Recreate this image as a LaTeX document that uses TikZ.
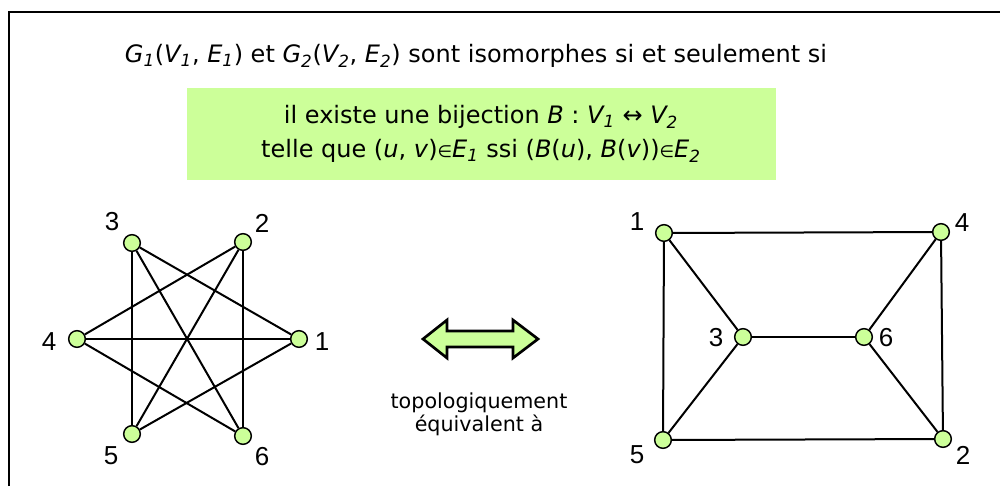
\documentclass[tikz,border=0pt]{standalone}
\usepackage{fontspec}
\setmainfont{DejaVu Sans}
\newfontfamily\chiffres{Liberation Sans}
\definecolor{vertclair}{RGB}{204,255,153}
\tikzset{
  sommet/.style={circle, draw, line width=1.1pt, fill=vertclair, minimum size=12.5pt, inner sep=0pt},
  arete/.style={line width=1.5pt},
  etiq/.style={font=\chiffres\fontsize{19.5}{19.5}\selectfont, inner sep=0pt},
  texte/.style={font=\fontsize{18}{24}\selectfont, align=center}
}
\newcommand{\ital}[2]{\textit{#1\textsubscript{#2}}}
\newcommand{\appart}{{\fontsize{12.5}{12.5}\selectfont ∈}}

\begin{document}
\begin{tikzpicture}[x=0.75pt, y=-0.75pt]
  \useasboundingbox (0,0) rectangle (1000,486);
  \draw[line width=1.8pt] (9,486) -- (9,12) -- (1000,12);

  \node[texte] (titre) at (476,56) {\ital{G}{1}(\ital{V}{1}, \ital{E}{1}) et \ital{G}{2}(\ital{V}{2}, \ital{E}{2}) sont isomorphes si et seulement si};
  \node[texte, font=\fontsize{18}{25.5}\selectfont, fill=vertclair, minimum width=441.75pt, minimum height=69pt] (boite) at (481,134)
    {il existe une bijection \textit{B} : \ital{V}{1} ↔ \ital{V}{2}\\
     telle que (\textit{u}, \textit{v})\appart\ital{E}{1} ssi (\textit{B}(\textit{u}), \textit{B}(\textit{v}))\appart\ital{E}{2}};

  % graphe de gauche
  \foreach \n/\x/\y/\lx/\ly in {1/299/339/322/342, 2/243/242/262/223, 3/132/243/112/222,
                                4/77/339/49/342, 5/132/434/111/456, 6/243/436/262/457} {
    \node[sommet] (g\n) at (\x,\y) {};
    \node[etiq] (lg\n) at (\lx,\ly) {\n};
  }
  \foreach \a/\b in {3/5, 3/6, 3/1, 2/4, 2/5, 2/6, 4/1, 4/6, 5/1}
    \draw[arete] (g\a) -- (g\b);

  % graphe de droite
  \foreach \n/\x/\y/\lx/\ly in {1/664/233/637/222, 2/943/439/963/455, 3/743/337/716/338,
                                4/941/232/962/223, 5/663/440/637/455, 6/864/337/886/338} {
    \node[sommet] (d\n) at (\x,\y) {};
    \node[etiq] (ld\n) at (\lx,\ly) {\n};
  }
  \foreach \a/\b in {1/4, 1/5, 1/3, 4/2, 4/6, 3/6, 3/5, 6/2, 5/2}
    \draw[arete] (d\a) -- (d\b);

  % double fleche
  \draw[line width=2pt, line join=miter, fill=vertclair]
    (423,339) -- (447,320) -- (447,331) -- (513,331) -- (513,320) -- (538,339)
    -- (513,358) -- (513,347) -- (447,347) -- (447,358) -- cycle;
  \node[texte, font=\fontsize{15.5}{17.5}\selectfont] (equiv) at (479,414) {topologiquement\\équivalent à};
\end{tikzpicture}
\end{document}
